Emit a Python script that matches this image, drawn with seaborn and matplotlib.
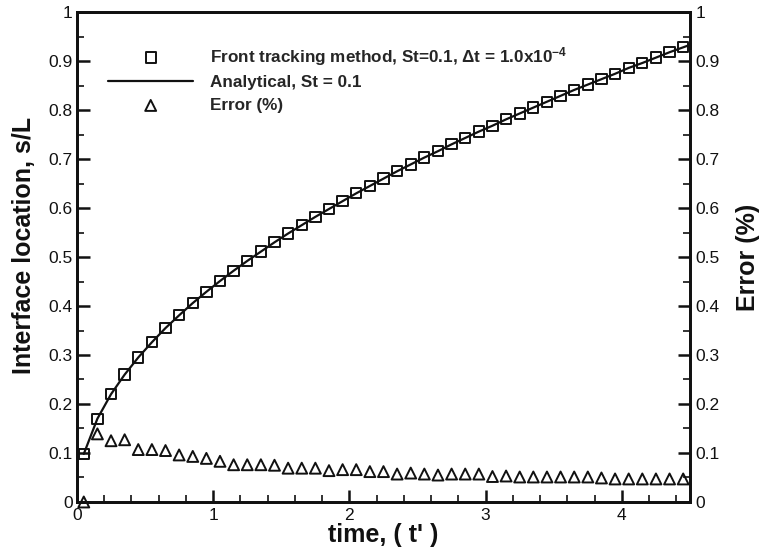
import matplotlib
matplotlib.use("Agg")
import matplotlib.pyplot as plt
from matplotlib.ticker import FixedLocator, FixedFormatter, MultipleLocator
import seaborn as sns
import pandas as pd

# Front tracking results: interface position s/L versus dimensionless time
time_ft = [0.05, 0.15, 0.25, 0.35, 0.45, 0.55, 0.65, 0.75, 0.85, 0.95,
           1.05, 1.15, 1.25, 1.35, 1.45, 1.55, 1.65, 1.75, 1.85, 1.95,
           2.05, 2.15, 2.25, 2.35, 2.45, 2.55, 2.65, 2.75, 2.85, 2.95,
           3.05, 3.15, 3.25, 3.35, 3.45, 3.55, 3.65, 3.75, 3.85, 3.95,
           4.05, 4.15, 4.25, 4.35, 4.45]
s_ft = [0.098, 0.170, 0.220, 0.260, 0.295, 0.326, 0.355, 0.381, 0.406, 0.429,
        0.451, 0.472, 0.492, 0.511, 0.530, 0.548, 0.565, 0.582, 0.598, 0.614,
        0.630, 0.645, 0.660, 0.675, 0.689, 0.703, 0.716, 0.730, 0.743, 0.756,
        0.768, 0.781, 0.793, 0.805, 0.817, 0.829, 0.841, 0.852, 0.863, 0.874,
        0.886, 0.896, 0.907, 0.918, 0.928]

# Analytical (Stefan) solution
time_exact = [0.05, 0.15, 0.25, 0.35, 0.45, 0.55, 0.65, 0.75, 0.85, 0.95,
              1.05, 1.15, 1.25, 1.35, 1.45, 1.55, 1.65, 1.75, 1.85, 1.95,
              2.05, 2.15, 2.25, 2.35, 2.45, 2.55, 2.65, 2.75, 2.85, 2.95,
              3.05, 3.15, 3.25, 3.35, 3.45, 3.55, 3.65, 3.75, 3.85, 3.95,
              4.05, 4.15, 4.25, 4.35, 4.45, 4.50]
s_exact = [0.098, 0.170, 0.220, 0.260, 0.295, 0.326, 0.355, 0.381, 0.406, 0.429,
           0.451, 0.472, 0.492, 0.511, 0.530, 0.548, 0.565, 0.582, 0.598, 0.614,
           0.630, 0.645, 0.660, 0.675, 0.689, 0.703, 0.716, 0.730, 0.743, 0.756,
           0.768, 0.781, 0.793, 0.805, 0.817, 0.829, 0.841, 0.852, 0.863, 0.874,
           0.886, 0.896, 0.907, 0.918, 0.928, 0.933]

# Relative error (%) of the front tracking result
error_pct = [0.000, 0.139, 0.125, 0.127, 0.107, 0.107, 0.105, 0.096, 0.093, 0.089,
             0.083, 0.076, 0.076, 0.076, 0.075, 0.069, 0.069, 0.069, 0.064, 0.066,
             0.066, 0.062, 0.062, 0.057, 0.059, 0.057, 0.055, 0.057, 0.057, 0.057,
             0.052, 0.053, 0.051, 0.051, 0.051, 0.051, 0.051, 0.051, 0.049, 0.047,
             0.047, 0.047, 0.047, 0.047, 0.047]

x_ticks = [0, 1, 2, 3, 4]
x_tick_labels = ["0", "1", "2", "3", "4"]
y_ticks = [0, 0.1, 0.2, 0.3, 0.4, 0.5, 0.6, 0.7, 0.8, 0.9, 1.0]
y_tick_labels = ["0", "0.1", "0.2", "0.3", "0.4", "0.5", "0.6", "0.7", "0.8", "0.9", "1"]

label_ft = "Front tracking method, St=0.1, \u0394t = 1.0x10$^{-4}$"
label_exact = "Analytical, St = 0.1"
label_err = "Error (%)"

sns.set_theme(style="ticks")
plt.rcParams["font.family"] = ["Liberation Sans", "DejaVu Sans"]
plt.rcParams["mathtext.fontset"] = "custom"
plt.rcParams["mathtext.rm"] = "Liberation Sans:bold"
plt.rcParams["mathtext.default"] = "rm"

ink = "#111111"

df_ft = pd.DataFrame({"t": time_ft, "s": s_ft, "err": error_pct})
df_exact = pd.DataFrame({"t": time_exact, "s": s_exact})

fig = plt.figure(figsize=(7.62, 5.58), dpi=100)
ax = fig.add_axes([0.101, 0.1004, 0.8045, 0.878])
ax2 = ax.twinx()

sns.lineplot(data=df_exact, x="t", y="s", ax=ax, color=ink, linewidth=1.6,
             label=label_exact, legend=False)
sns.scatterplot(data=df_ft, x="t", y="s", ax=ax, marker="s", s=55,
                facecolor="none", edgecolor=ink, linewidth=1.4,
                label=label_ft, legend=False, zorder=3)
sns.scatterplot(data=df_ft, x="t", y="err", ax=ax2, marker="^", s=62,
                facecolor="none", edgecolor=ink, linewidth=1.4,
                label=label_err, legend=False, clip_on=False, zorder=3)

for a in (ax, ax2):
    a.set_xlim(0, 4.5)
    a.set_ylim(0, 1)
    a.yaxis.set_major_locator(FixedLocator(y_ticks))
    a.yaxis.set_major_formatter(FixedFormatter(y_tick_labels))
    a.yaxis.set_minor_locator(MultipleLocator(0.05))
    for sp in a.spines.values():
        sp.set_linewidth(2.0)
        sp.set_color(ink)
    a.tick_params(which="major", direction="in", length=9, width=1.8,
                  color=ink, labelsize=12.5, labelcolor=ink)
    a.tick_params(which="minor", direction="in", length=5, width=1.2, color=ink)

ax.xaxis.set_major_locator(FixedLocator(x_ticks))
ax.xaxis.set_major_formatter(FixedFormatter(x_tick_labels))
ax.xaxis.set_minor_locator(MultipleLocator(0.2))
ax.tick_params(axis="x", which="both", top=False, pad=4)
ax.tick_params(axis="y", which="both", left=True, right=False, pad=3)
ax2.tick_params(axis="y", which="both", left=False, right=True, pad=4)
ax2.tick_params(axis="x", which="both", bottom=False, top=False, labelbottom=False)

ax.set_xlabel("time, ( t' )", fontsize=18, fontweight="bold", color=ink, labelpad=0)
ax.set_ylabel("Interface location, s/L", fontsize=18, fontweight="bold",
              color=ink, labelpad=9)
ax.yaxis.label.set_y(0.524)
ax2.set_ylabel("Error (%)", fontsize=18, fontweight="bold", color=ink, labelpad=12)

h1, l1 = ax.get_legend_handles_labels()
h2, l2 = ax2.get_legend_handles_labels()
order = [1, 0]
handles = [h1[i] for i in order] + h2
labels = [l1[i] for i in order] + l2
fig.legend(handles, labels, loc="upper left", bbox_to_anchor=(0.1417, 0.92),
           frameon=False, borderpad=0, borderaxespad=0, handlelength=5.0,
           handletextpad=0.95, labelspacing=0.45, scatterpoints=1,
           prop={"weight": "bold", "size": 12.3})

fig.savefig("out.png", dpi=100)
